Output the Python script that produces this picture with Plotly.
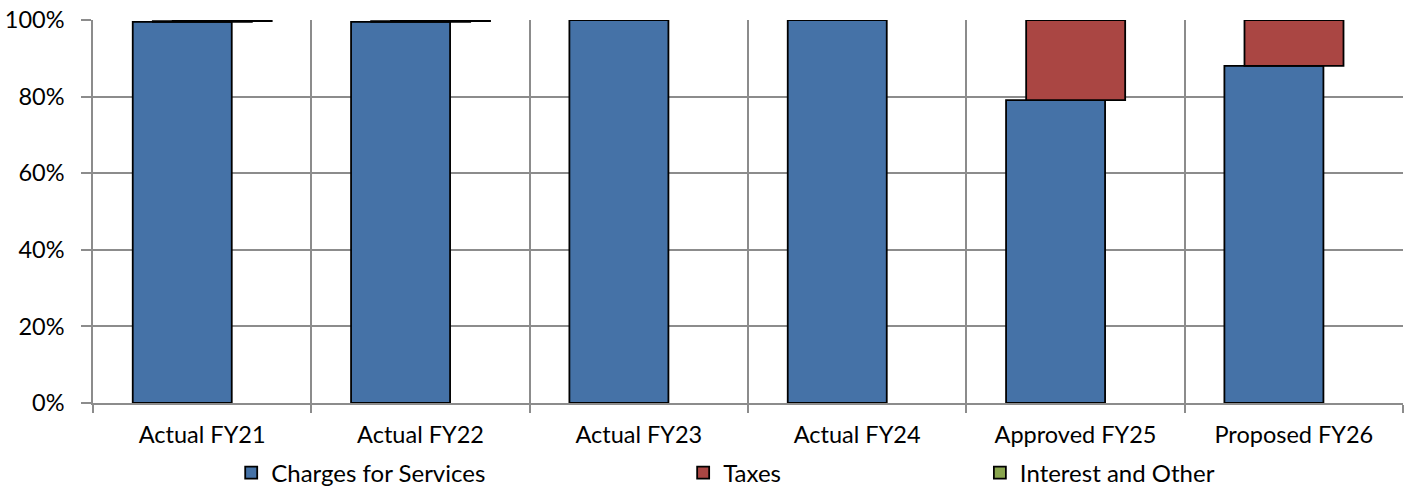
import plotly.graph_objects as go

categories = ["Actual FY21", "Actual FY22", "Actual FY23", "Actual FY24", "Approved FY25", "Proposed FY26"]
charges = [0.995, 0.995, 1.0, 1.0, 0.791, 0.880]
taxes = [0.002, 0.002, None, None, 0.209, 0.120]
interest = [0.003, 0.003, None, None, None, None]

series_names = ["Charges for Services", "Taxes", "Interest and Other"]
colors = ["#4572A7", "#AA4643", "#89A54E"]
offsets = [-0.318, -0.226, -0.135]
bar_width = 0.4535
legend_ids = ["legend", "legend2", "legend3"]
legend_x = [0.1055, 0.4505, 0.677]

base_taxes = charges
base_interest = [c + (t or 0) for c, t in zip(charges, taxes)]

fig = go.Figure()
for name, vals, base, col, off, lg in [
    (series_names[0], charges, [0] * len(charges), colors[0], offsets[0], legend_ids[0]),
    (series_names[1], taxes, base_taxes, colors[1], offsets[1], legend_ids[1]),
    (series_names[2], interest, base_interest, colors[2], offsets[2], legend_ids[2]),
]:
    fig.add_trace(go.Bar(
        x=categories, y=vals, base=base, name=name,
        marker=dict(color=col, line=dict(color="black", width=1.8)),
        width=bar_width, offset=off, legend=lg,
    ))

font_family = "Lato, Carlito, Calibri, sans-serif"
grid = "#8C8C8C"
fs = 23.5


def legend_cfg(x):
    return dict(
        orientation="h", x=x, xanchor="left", y=-0.183, yanchor="middle",
        font=dict(size=24), itemclick=False, bgcolor="rgba(0,0,0,0)",
    )


fig.update_layout(
    width=1410, height=489,
    barmode="overlay",
    plot_bgcolor="white", paper_bgcolor="white",
    margin=dict(l=93, r=7, t=20, b=86, autoexpand=False),
    font=dict(family=font_family, size=fs, color="black"),
    showlegend=True,
    legend=legend_cfg(legend_x[0]),
    legend2=legend_cfg(legend_x[1]),
    legend3=legend_cfg(legend_x[2]),
    xaxis=dict(
        type="category", range=[-0.5, 5.5], automargin=False,
        tickson="boundaries", ticks="outside", ticklen=8, tickwidth=1.5, tickcolor=grid,
        showgrid=True, gridcolor=grid, gridwidth=1.5,
        showline=True, linecolor=grid, linewidth=1.5,
        tickfont=dict(size=fs), ticklabelstandoff=10,
    ),
    yaxis=dict(
        range=[0, 1], dtick=0.2, tickformat=".0%", automargin=False,
        ticks="outside", ticklen=10, tickwidth=1.5, tickcolor=grid,
        showgrid=True, gridcolor=grid, gridwidth=1.5,
        showline=True, linecolor=grid, linewidth=1.5,
        zeroline=False, tickfont=dict(size=fs), ticklabelstandoff=12,
    ),
)

fig.write_html(
    "out.html",
    config={"displayModeBar": False},
    post_script="document.body.style.margin='0px';document.body.style.overflow='hidden';",
)
